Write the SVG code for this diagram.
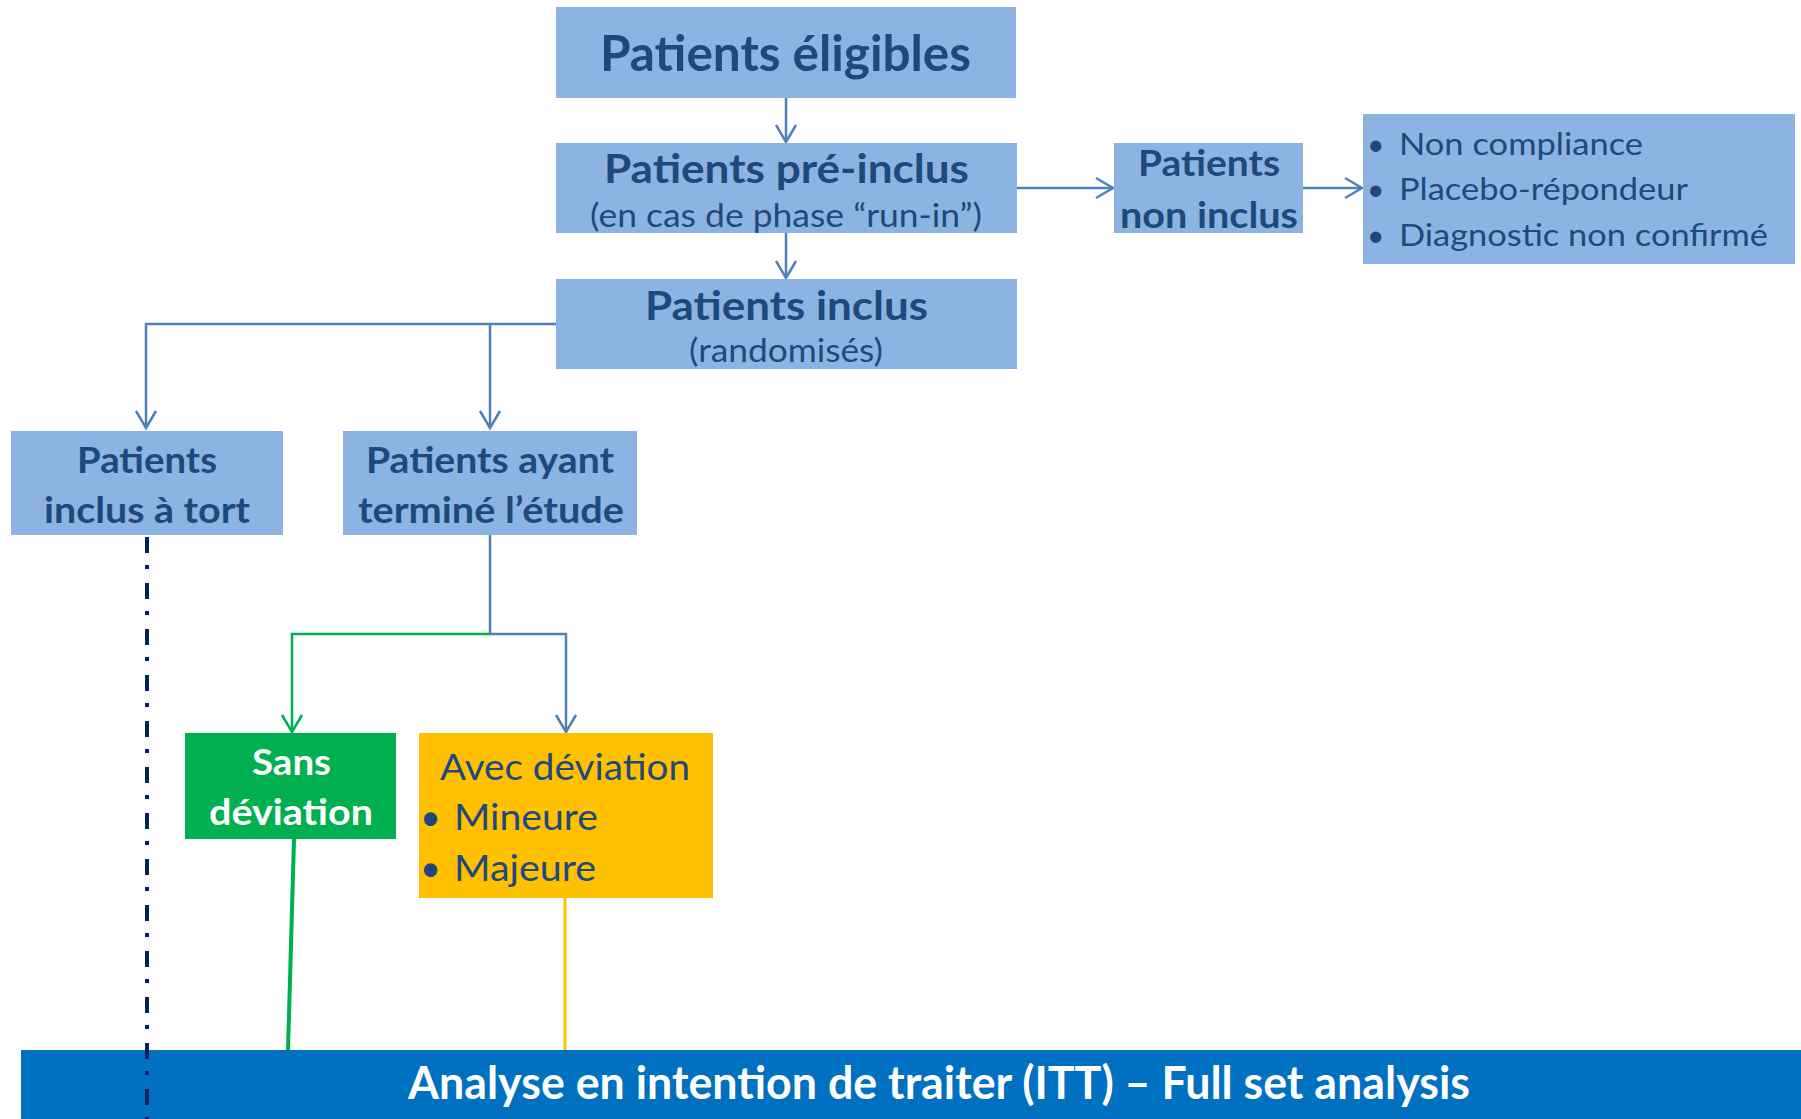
<svg xmlns="http://www.w3.org/2000/svg" width="1801" height="1119" viewBox="0 0 1801 1119">
<style>
  .box { fill: #8DB3E2; }
  .t { font-family: Lato, "Liberation Sans", sans-serif; fill: #1F497D; }
  .b { font-weight: bold; }
  .w { fill: #FFFFFF; }
  .con { fill: none; stroke: #4F81BD; stroke-width: 2.5; }
  .green { stroke: #00B050; }
</style>
<defs>
  <marker id="arB" markerUnits="userSpaceOnUse" markerWidth="40" markerHeight="40" viewBox="-20 -20 40 40" refX="0" refY="0" orient="auto">
    <path d="M-17,-10 L0,0 L-17,10" fill="none" stroke="#4F81BD" stroke-width="2.5"/>
  </marker>
  <marker id="arG" markerUnits="userSpaceOnUse" markerWidth="40" markerHeight="40" viewBox="-20 -20 40 40" refX="0" refY="0" orient="auto">
    <path d="M-17,-10 L0,0 L-17,10" fill="none" stroke="#00B050" stroke-width="2.5"/>
  </marker>
</defs>
<rect width="1801" height="1119" fill="#FFFFFF"/>

<g id="connectors">
  <line class="con" x1="786" y1="98" x2="786" y2="142" marker-end="url(#arB)"/>
  <line class="con" x1="786" y1="233" x2="786" y2="278" marker-end="url(#arB)"/>
  <line class="con" x1="1016" y1="188" x2="1113" y2="188" marker-end="url(#arB)"/>
  <line class="con" x1="1303" y1="188" x2="1362" y2="188" marker-end="url(#arB)"/>
  <polyline class="con" points="556,324 146,324 146,428" marker-end="url(#arB)"/>
  <line class="con" x1="490" y1="324" x2="490" y2="428" marker-end="url(#arB)"/>
  <line class="con" x1="490" y1="535" x2="490" y2="634"/>
  <polyline class="con" points="490,634 566,634 566,732" marker-end="url(#arB)"/>
  <polyline class="con green" points="490,634 292,634 292,732" marker-end="url(#arG)"/>
  <line x1="294" y1="839" x2="288" y2="1050" stroke="#00B050" stroke-width="4"/>
  <line x1="565" y1="898" x2="565" y2="1050" stroke="#FFC000" stroke-width="3"/>
</g>

<g id="n-eligibles">
  <rect class="box" x="556" y="7" width="460" height="91"/>
  <text class="t b" x="600" y="71" font-size="49" textLength="371" lengthAdjust="spacingAndGlyphs">Patients éligibles</text>
</g>
<g id="n-preinclus">
  <rect class="box" x="556" y="143" width="461" height="90"/>
  <text class="t b" x="604" y="183" font-size="40" textLength="365" lengthAdjust="spacingAndGlyphs">Patients pré-inclus</text>
  <text class="t" x="590" y="227" font-size="33" textLength="392" lengthAdjust="spacingAndGlyphs">(en cas de phase “run-in”)</text>
</g>
<g id="n-inclus">
  <rect class="box" x="556" y="279" width="461" height="90"/>
  <text class="t b" x="645" y="320" font-size="40" textLength="283" lengthAdjust="spacingAndGlyphs">Patients inclus</text>
  <text class="t" x="689" y="362" font-size="33" textLength="194" lengthAdjust="spacingAndGlyphs">(randomisés)</text>
</g>
<g id="n-noninclus">
  <rect class="box" x="1114" y="143" width="189" height="90"/>
  <text class="t b" x="1138" y="176" font-size="36" textLength="142" lengthAdjust="spacingAndGlyphs">Patients</text>
  <text class="t b" x="1120" y="228" font-size="36" textLength="178" lengthAdjust="spacingAndGlyphs">non inclus</text>
</g>
<g id="n-raisons">
  <rect class="box" x="1363" y="114" width="432" height="150"/>
  <text class="t" x="1367" y="155" font-size="30">•</text>
  <text class="t" x="1399" y="155" font-size="31" textLength="244" lengthAdjust="spacingAndGlyphs">Non compliance</text>
  <text class="t" x="1367" y="200" font-size="30">•</text>
  <text class="t" x="1399" y="200" font-size="31" textLength="289" lengthAdjust="spacingAndGlyphs">Placebo-répondeur</text>
  <text class="t" x="1367" y="246" font-size="30">•</text>
  <text class="t" x="1399" y="246" font-size="31" textLength="369" lengthAdjust="spacingAndGlyphs">Diagnostic non confirmé</text>
</g>
<g id="n-tort">
  <rect class="box" x="11" y="431" width="272" height="104"/>
  <text class="t b" x="77" y="473" font-size="36" textLength="140" lengthAdjust="spacingAndGlyphs">Patients</text>
  <text class="t b" x="44" y="523" font-size="36" textLength="206" lengthAdjust="spacingAndGlyphs">inclus à tort</text>
</g>
<g id="n-termine">
  <rect class="box" x="343" y="431" width="294" height="104"/>
  <text class="t b" x="366" y="473" font-size="36" textLength="248" lengthAdjust="spacingAndGlyphs">Patients ayant</text>
  <text class="t b" x="358" y="523" font-size="36" textLength="266" lengthAdjust="spacingAndGlyphs">terminé l’étude</text>
</g>
<g id="n-sans">
  <rect x="185" y="733" width="211" height="106" fill="#00B050"/>
  <text class="t b w" x="252" y="775" font-size="36" textLength="79" lengthAdjust="spacingAndGlyphs">Sans</text>
  <text class="t b w" x="209" y="825" font-size="36" textLength="164" lengthAdjust="spacingAndGlyphs">déviation</text>
</g>
<g id="n-avec">
  <rect x="419" y="733" width="294" height="165" fill="#FFC000"/>
  <text class="t" x="440" y="780" font-size="37" textLength="250" lengthAdjust="spacingAndGlyphs">Avec déviation</text>
  <text class="t" x="420" y="830" font-size="36">•</text>
  <text class="t" x="454" y="830" font-size="37" textLength="144" lengthAdjust="spacingAndGlyphs">Mineure</text>
  <text class="t" x="420" y="881" font-size="36">•</text>
  <text class="t" x="454" y="881" font-size="37" textLength="142" lengthAdjust="spacingAndGlyphs">Majeure</text>
</g>
<g id="n-itt">
  <rect x="21" y="1050" width="1780" height="69" fill="#0070C0"/>
  <text class="t b w" x="408" y="1099" font-size="45" textLength="1062" lengthAdjust="spacingAndGlyphs">Analyse en intention de traiter (ITT) – Full set analysis</text>
</g>

<g id="dashdot">
  <line x1="147" y1="537" x2="147" y2="1119" stroke="#002060" stroke-width="4" stroke-dasharray="16 12 4 14"/>
</g>
</svg>
